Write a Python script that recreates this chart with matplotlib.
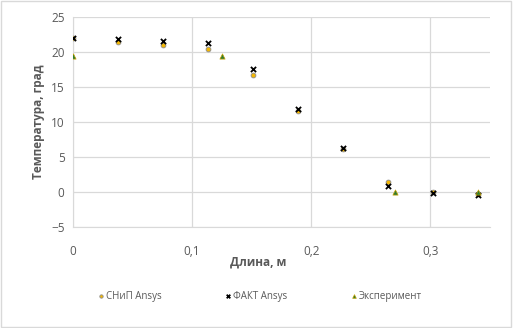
import matplotlib.pyplot as plt
from matplotlib.ticker import FuncFormatter

plt.rcParams['font.family'] = ['Open Sans', 'DejaVu Sans']

# Data
x_calc = [0, 0.0377, 0.0755, 0.1132, 0.151, 0.1887, 0.2265, 0.2642, 0.302, 0.34]
snip = [22.0, 21.4, 21.0, 20.4, 16.7, 11.6, 6.2, 1.4, 0.0, -0.3]
fakt = [22.0, 21.9, 21.6, 21.3, 17.6, 11.9, 6.3, 0.9, -0.1, -0.4]
x_exp = [0, 0.125, 0.27, 0.34]
exper = [19.4, 19.4, 0.0, 0.0]

grey = '#595959'

fig = plt.figure(figsize=(5.13, 3.28), dpi=100)
ax = fig.add_axes([0.142, 0.308, 0.813, 0.64])

ax.scatter(x_calc, snip, s=12, marker='o', color='#F2B705', edgecolors='#8c8c8c',
           linewidths=0.6, label='СНиП Ansys', zorder=3)
ax.scatter(x_calc, fakt, s=14, marker='x', color='black', linewidths=1.3,
           label='ФАКТ Ansys', zorder=4)
ax.scatter(x_exp, exper, s=14, marker='^', color='#2E7D32', edgecolors='#c8a000',
           linewidths=0.5, label='Эксперимент', zorder=5)

ax.set_xlim(0, 0.35)
ax.set_ylim(-5, 25)
ax.set_xticks([0, 0.1, 0.2, 0.3])
ax.set_yticks(range(-5, 26, 5))
ax.xaxis.set_major_formatter(FuncFormatter(lambda v, p: '0' if v == 0 else f'{v:.1f}'.replace('.', ',')))

ax.grid(True, color='#d9d9d9', linewidth=0.9)
ax.set_axisbelow(True)
for side in ['top', 'right']:
    ax.spines[side].set_visible(False)
ax.spines['left'].set_color('#d9d9d9')
ax.spines['bottom'].set_color('#d9d9d9')
ax.tick_params(length=0, labelsize=8.5, colors=grey, pad=6)
ax.tick_params(axis='x', pad=13)

ax.set_ylabel('Температура, град', fontsize=8.5, fontweight='bold', color=grey, labelpad=4)
fig.text(0.503, 0.2, 'Длина, м', fontsize=8.5, fontweight='bold', color=grey,
         ha='center', va='center')

fig.legend(loc='center', bbox_to_anchor=(0.505, 0.097), ncol=3, frameon=False,
           fontsize=7, labelcolor=grey, handletextpad=0.05, columnspacing=6.3,
           handlelength=1.0, markerscale=0.7)

fig.patches.append(plt.Rectangle((0.002, 0.003), 0.995, 0.994, transform=fig.transFigure,
                                 fill=False, edgecolor='#d9d9d9', linewidth=1))

plt.savefig('out.png', dpi=100, facecolor='white')
